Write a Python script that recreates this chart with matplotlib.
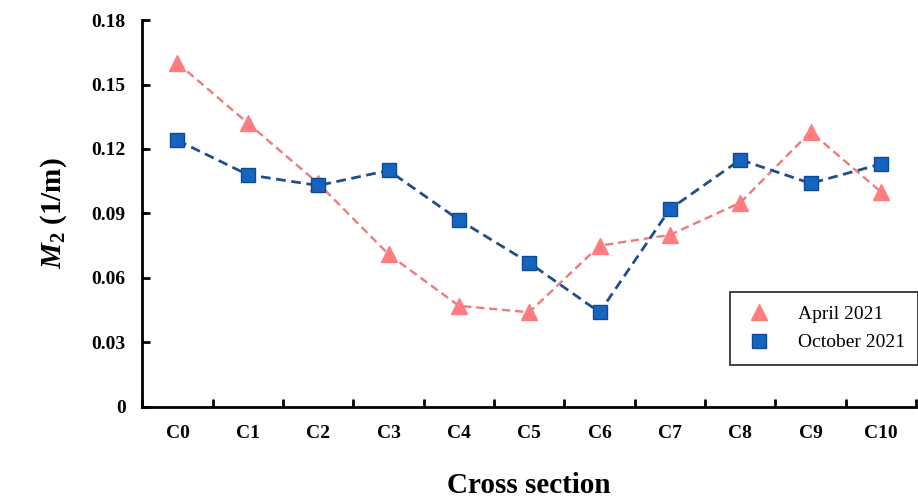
import numpy as np
import matplotlib
matplotlib.use('Agg')
import matplotlib.pyplot as plt
from matplotlib.ticker import FuncFormatter

sections = ['C0', 'C1', 'C2', 'C3', 'C4', 'C5', 'C6', 'C7', 'C8', 'C9', 'C10']
april_2021 = [0.160, 0.132, 0.104, 0.071, 0.047, 0.044, 0.075, 0.080, 0.095, 0.128, 0.100]
october_2021 = [0.124, 0.108, 0.103, 0.110, 0.087, 0.067, 0.044, 0.092, 0.115, 0.104, 0.113]
y_ticks = [0, 0.03, 0.06, 0.09, 0.12, 0.15, 0.18]

plt.rcParams['font.family'] = ['Liberation Serif', 'DejaVu Serif']
plt.rcParams['mathtext.fontset'] = 'custom'
plt.rcParams['mathtext.it'] = 'Liberation Serif:italic:bold'
plt.rcParams['mathtext.rm'] = 'Liberation Serif:bold'

fig = plt.figure(figsize=(9.18, 5.01), dpi=100)
ax = fig.add_axes([0.155, 0.188, 0.843, 0.772])

x = np.arange(len(sections))
ax.plot(x, april_2021, ls='--', lw=1.7, color='#F07A7E', dashes=(3.5, 2),
        marker='^', ms=11, mfc='#FF7C80', mec='#FF7C80', label='April 2021')
ax.plot(x, october_2021, ls='--', lw=2.0, color='#1F4E8C', dashes=(3.5, 2),
        marker='s', ms=9.5, mfc='#1565C0', mec='#0D4A96', label='October 2021')

ax.set_xlim(-0.5, len(sections) - 0.5)
ax.set_ylim(0, 0.18)
ax.set_yticks(y_ticks)
ax.yaxis.set_major_formatter(FuncFormatter(lambda v, p: '0' if v == 0 else f'{v:.2f}'))
ax.set_xticks(np.arange(len(sections) + 1) - 0.5)
ax.set_xticklabels([])
ax.set_xticks(x, minor=True)
ax.set_xticklabels(sections, minor=True, fontsize=14, fontweight='bold')
ax.tick_params(axis='x', which='minor', length=0, pad=13)
ax.tick_params(axis='x', which='major', direction='in', length=6, width=2)
ax.tick_params(axis='y', direction='in', length=6, width=2, labelsize=14, pad=12)
for lbl in ax.get_yticklabels():
    lbl.set_fontweight('bold')

for s in ['top', 'right']:
    ax.spines[s].set_visible(False)
for s in ['left', 'bottom']:
    ax.spines[s].set_linewidth(2)

ax.set_xlabel('Cross section', fontsize=21, fontweight='bold', labelpad=22)
ax.set_ylabel(r'$M_{2}$ (1/m)', fontsize=21, fontweight='bold', labelpad=16)

leg = ax.legend(loc='lower right', bbox_to_anchor=(1.003, 0.108), fontsize=14,
                frameon=True, fancybox=False, edgecolor='black',
                borderpad=0.7, labelspacing=0.55, handlelength=1.6, handletextpad=1.2,
                borderaxespad=0)
for h in leg.legend_handles:
    h.set_linestyle('none')
leg.get_frame().set_linewidth(1.3)

fig.savefig('out.png', dpi=100)
